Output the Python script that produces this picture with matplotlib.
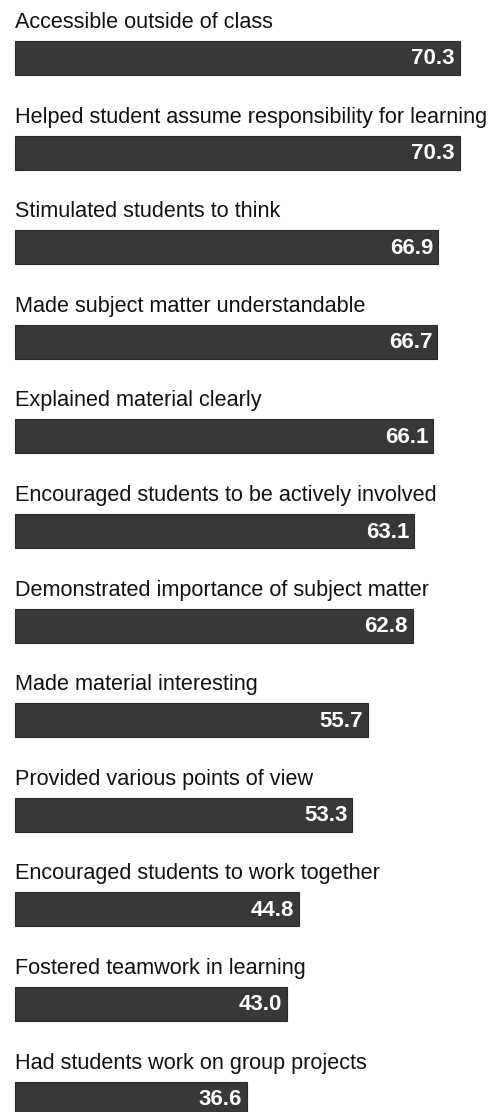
import matplotlib
matplotlib.use("Agg")
import matplotlib.pyplot as plt

# --- Data ---
labels = [
    "Accessible outside of class",
    "Helped student assume responsibility for learning",
    "Stimulated students to think",
    "Made subject matter understandable",
    "Explained material clearly",
    "Encouraged students to be actively involved",
    "Demonstrated importance of subject matter",
    "Made material interesting",
    "Provided various points of view",
    "Encouraged students to work together",
    "Fostered teamwork in learning",
    "Had students work on group projects",
]
values = [70.3, 70.3, 66.9, 66.7, 66.1, 63.1, 62.8, 55.7, 53.3, 44.8, 43.0, 36.6]

# --- Layout (pixels) ---
W, H = 503, 1112
LEFT_PX = 15
RIGHT_PX = 460          # end of the 70.3 bar
FIRST_CENTER = 58
PITCH = 94.6
BAR_H = 34

FAMILY = ["Liberation Sans", "DejaVu Sans"]

fig = plt.figure(figsize=(W / 100, H / 100), dpi=100)
ax = fig.add_axes([0, 0, 1, 1])

scale = (RIGHT_PX - LEFT_PX) / max(values)
ax.set_xlim(-LEFT_PX / scale, (W - LEFT_PX) / scale)
ax.set_ylim(H, 0)
ax.axis("off")

centers = [FIRST_CENTER + PITCH * i for i in range(len(values))]
ax.barh(centers, values, height=BAR_H, left=0, color="#383838",
        edgecolor="#2a2a2a", linewidth=0.8)

for y, lab, v in zip(centers, labels, values):
    ax.text(0, y - 30, lab, family=FAMILY, fontsize=15.6, color="#111111",
            ha="left", va="baseline")
    ax.text(v - 5 / scale, y + 1, f"{v:.1f}", family=FAMILY, fontsize=16,
            fontweight="bold", color="white", ha="right", va="center")

fig.savefig("out.png", dpi=100, facecolor="white")
